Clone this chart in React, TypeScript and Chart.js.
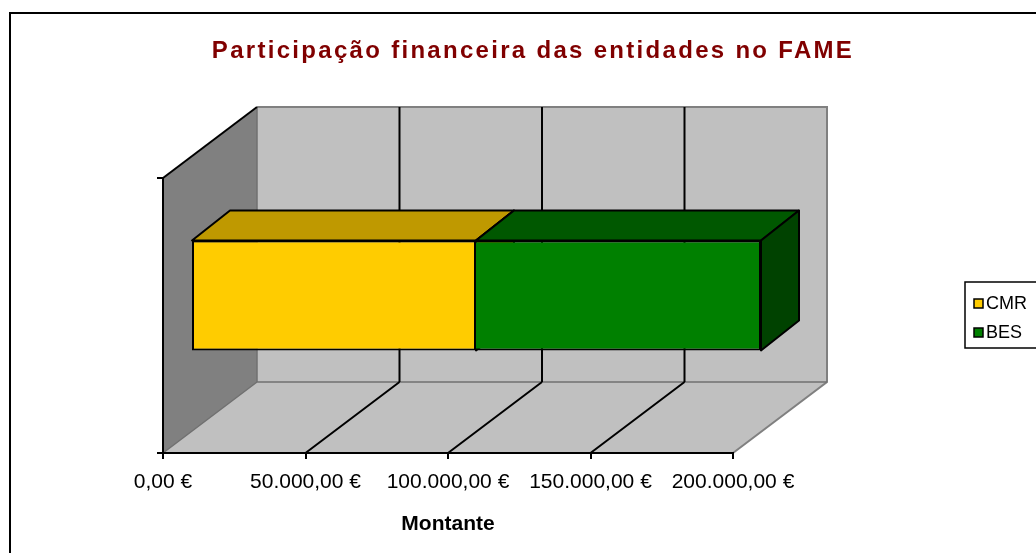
import React, { useEffect, useRef } from 'react';
import { Chart, registerables } from 'chart.js';

Chart.register(...registerables);

// ---- data ----
const categories = [''];
const seriesNames = ['CMR', 'BES'];
const cmrValues = [100000];
const besValues = [100000];
const xMin = 0;
const xMax = 200000;
const xStep = 50000;
const chartTitle = 'Participação financeira das entidades no FAME';
const xAxisTitle = 'Montante';

// ---- styles ----
const frontColors = ['#FFCC00', '#008000'];
const topColors = ['#BF9900', '#005800'];
const sideColors = ['#B08C00', '#004200'];
const FONT = '"Liberation Sans", Arial, sans-serif';

// 3D projection (pixel offsets)
const WALL = { x: 94, y: -71 };
const BAR_OFF = { x: 28, y: -20 };
const BAR_DEPTH = { x: 38, y: -30 };

function formatEuro(v: number): string {
  const fixed = Math.abs(v).toFixed(2);
  const [i, d] = fixed.split('.');
  const withDots = i.replace(/\B(?=(\d{3})+(?!\d))/g, '.');
  return `${v < 0 ? '-' : ''}${withDots},${d} €`;
}

function poly(ctx: CanvasRenderingContext2D, pts: number[][]) {
  ctx.beginPath();
  ctx.moveTo(pts[0][0], pts[0][1]);
  for (let i = 1; i < pts.length; i++) ctx.lineTo(pts[i][0], pts[i][1]);
  ctx.closePath();
}

const scene3d = {
  id: 'scene3d',
  beforeDraw(chart: any) {
    const { ctx, chartArea: a, scales } = chart;
    const xs = scales.x;
    ctx.save();
    ctx.fillStyle = '#FFFFFF';
    ctx.fillRect(0, 0, chart.width, chart.height);

    const L = a.left, R = a.right, T = a.top, B = a.bottom;
    // back wall
    ctx.fillStyle = '#C0C0C0';
    ctx.fillRect(L + WALL.x, T + WALL.y, R - L, B - T);
    // floor
    poly(ctx, [[L, B], [R, B], [R + WALL.x, B + WALL.y], [L + WALL.x, B + WALL.y]]);
    ctx.fill();
    // side wall
    ctx.fillStyle = '#808080';
    poly(ctx, [[L, T], [L + WALL.x, T + WALL.y], [L + WALL.x, B + WALL.y], [L, B]]);
    ctx.fill();

    // gray edges
    ctx.strokeStyle = '#808080';
    ctx.lineWidth = 2;
    ctx.beginPath();
    ctx.moveTo(L + WALL.x, T + WALL.y);
    ctx.lineTo(R + WALL.x, T + WALL.y);
    ctx.lineTo(R + WALL.x, B + WALL.y);
    ctx.lineTo(R, B);
    ctx.stroke();
    ctx.strokeStyle = '#707070';
    ctx.lineWidth = 1.5;
    ctx.beginPath();
    ctx.moveTo(L + WALL.x, T + WALL.y);
    ctx.lineTo(L + WALL.x, B + WALL.y);
    ctx.lineTo(R + WALL.x, B + WALL.y);
    ctx.moveTo(L + WALL.x, B + WALL.y);
    ctx.lineTo(L, B);
    ctx.stroke();

    // grid lines on back wall and floor
    ctx.strokeStyle = '#000000';
    ctx.lineWidth = 2;
    xs.ticks.forEach((t: any) => {
      if (t.value <= xMin || t.value >= xMax) return;
      const px = xs.getPixelForValue(t.value);
      ctx.beginPath();
      ctx.moveTo(px + WALL.x, T + WALL.y);
      ctx.lineTo(px + WALL.x, B + WALL.y);
      ctx.moveTo(px, B);
      ctx.lineTo(px + WALL.x, B + WALL.y);
      ctx.stroke();
    });
    // top edge of side wall
    ctx.beginPath();
    ctx.moveTo(L, T);
    ctx.lineTo(L + WALL.x, T + WALL.y);
    ctx.stroke();
    ctx.restore();
  },
  beforeDatasetsDraw(chart: any) {
    const { ctx } = chart;
    ctx.save();
    ctx.lineWidth = 2;
    ctx.strokeStyle = '#000000';
    ctx.lineJoin = 'round';
    chart.data.datasets.forEach((_ds: any, i: number) => {
      const meta = chart.getDatasetMeta(i);
      meta.data.forEach((bar: any) => {
        const { x, y, base, height } = bar.getProps(['x', 'y', 'base', 'height'], true);
        const l = Math.min(x, base) + BAR_OFF.x;
        const r = Math.max(x, base) + BAR_OFF.x;
        const t = y - height / 2 + BAR_OFF.y;
        const b = y + height / 2 + BAR_OFF.y;
        ctx.fillStyle = topColors[i];
        poly(ctx, [[l, t], [r, t], [r + BAR_DEPTH.x, t + BAR_DEPTH.y], [l + BAR_DEPTH.x, t + BAR_DEPTH.y]]);
        ctx.fill();
        ctx.stroke();
        ctx.fillStyle = sideColors[i];
        poly(ctx, [[r, t], [r + BAR_DEPTH.x, t + BAR_DEPTH.y], [r + BAR_DEPTH.x, b + BAR_DEPTH.y], [r, b]]);
        ctx.fill();
        ctx.stroke();
      });
    });
    ctx.restore();
    ctx.save();
    ctx.translate(BAR_OFF.x, BAR_OFF.y);
  },
  afterDatasetsDraw(chart: any) {
    chart.ctx.restore();
  },
  afterDraw(chart: any) {
    const { ctx } = chart;
    ctx.save();
    // title
    ctx.fillStyle = '#800000';
    ctx.font = `bold 24px ${FONT}`;
    (ctx as any).letterSpacing = '2.3px';
    ctx.textAlign = 'center';
    ctx.textBaseline = 'middle';
    ctx.fillText(chartTitle, 533, 51);
    (ctx as any).letterSpacing = '0px';

    // legend
    const lx = 965, ly = 282;
    ctx.strokeStyle = '#000000';
    ctx.lineWidth = 1.5;
    ctx.strokeRect(lx, ly, 200, 66);
    ctx.font = `18px ${FONT}`;
    ctx.textAlign = 'left';
    chart.data.datasets.forEach((ds: any, i: number) => {
      const cy = 304 + i * 29;
      ctx.fillStyle = ds.backgroundColor;
      ctx.fillRect(974, cy - 5, 9, 9);
      ctx.strokeRect(974, cy - 5, 9, 9);
      ctx.fillStyle = '#000000';
      ctx.fillText(ds.label, 986, cy);
    });

    // outer border
    ctx.lineWidth = 2;
    ctx.strokeRect(10, 13, 1100, 600);
    ctx.restore();
  },
};

export default function App() {
  const ref = useRef<HTMLCanvasElement | null>(null);
  useEffect(() => {
    if (!ref.current) return;
    const chart = new Chart(ref.current, {
      type: 'bar',
      data: {
        labels: categories,
        datasets: [
          {
            label: seriesNames[0],
            data: cmrValues,
            backgroundColor: frontColors[0],
            borderColor: '#000000',
            borderWidth: 2,
            borderSkipped: false,
            clip: false,
          },
          {
            label: seriesNames[1],
            data: besValues,
            backgroundColor: frontColors[1],
            borderColor: '#000000',
            borderWidth: { left: 0, top: 2, right: 2, bottom: 2 },
            borderSkipped: false,
            clip: false,
          },
        ] as any,
      },
      options: {
        indexAxis: 'y',
        animation: false,
        responsive: false,
        devicePixelRatio: 1,
        layout: { padding: { left: 153, top: 178, right: 303, bottom: 0 } },
        datasets: { bar: { categoryPercentage: 1, barPercentage: 0.4 } },
        plugins: {
          legend: { display: false },
          title: { display: false },
          tooltip: { enabled: false },
        },
        scales: {
          x: {
            type: 'linear',
            stacked: true,
            min: xMin,
            max: xMax,
            ticks: {
              stepSize: xStep,
              autoSkip: false,
              maxRotation: 0,
              minRotation: 0,
              padding: 11,
              color: '#000000',
              font: { family: FONT, size: 21 },
              callback: (v: any) => formatEuro(Number(v)),
            },
            grid: { drawOnChartArea: false, drawTicks: true, tickLength: 6, color: '#000000', lineWidth: 2 },
            border: { display: true, color: '#000000', width: 2 },
            title: {
              display: true,
              text: xAxisTitle,
              color: '#000000',
              font: { family: FONT, size: 21, weight: 'bold' },
              padding: { top: 0, bottom: 16 },
            },
            afterFit: (s: any) => { s.height = 100; },
          },
          y: {
            type: 'category',
            stacked: true,
            offset: true,
            ticks: { display: false },
            grid: { offset: true, drawOnChartArea: false, drawTicks: true, tickLength: 6, color: '#000000', lineWidth: 2 },
            border: { display: true, color: '#000000', width: 2 },
            afterFit: (s: any) => { s.width = 10; },
          },
        },
      } as any,
      plugins: [scene3d],
    });
    return () => chart.destroy();
  }, []);
  return (
    <div style={{ position: 'fixed', left: 0, top: 0, width: 1036, height: 553, overflow: 'hidden', background: '#fff' }}>
      <canvas ref={ref} width={1036} height={553} style={{ display: 'block', width: 1036, height: 553 }} />
    </div>
  );
}
